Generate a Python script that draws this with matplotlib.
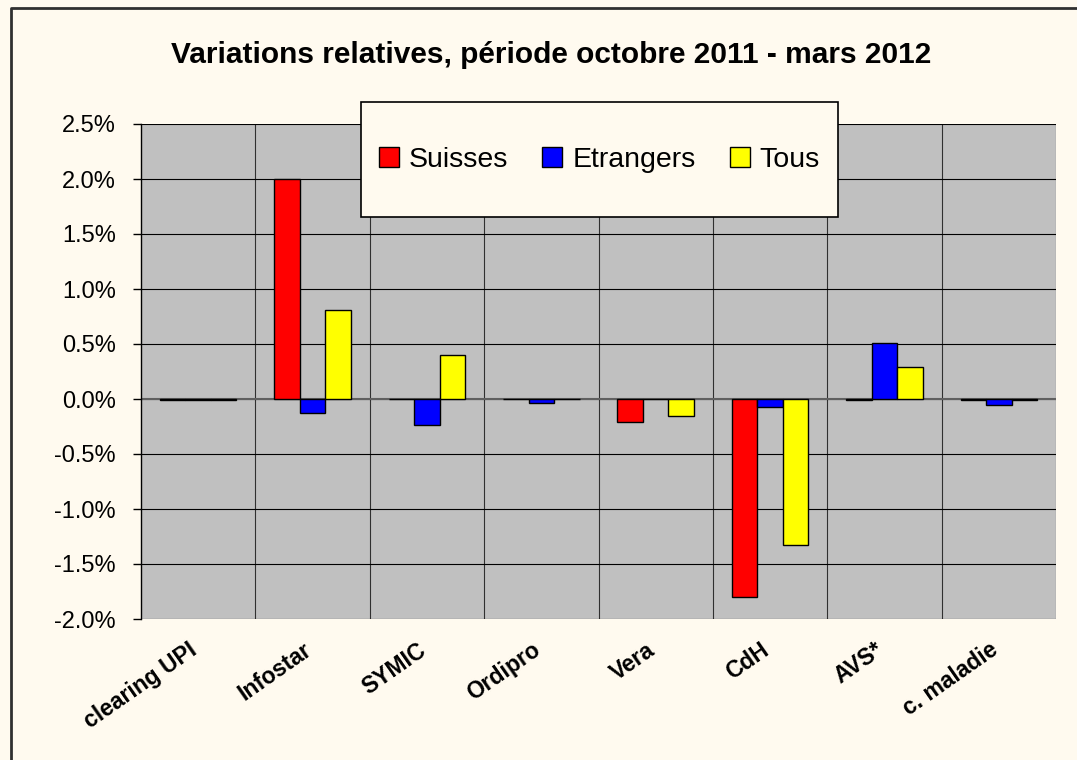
import numpy as np
import matplotlib
matplotlib.use("Agg")
import matplotlib.pyplot as plt
import matplotlib.transforms as mtransforms
from matplotlib.patches import Rectangle
from matplotlib.ticker import FuncFormatter, MultipleLocator

categories = ["clearing UPI", "Infostar", "SYMIC", "Ordipro", "Vera", "CdH", "AVS*", "c. maladie"]
suisses    = [-0.005, 2.00, 0.00, 0.00, -0.21, -1.80, -0.01, -0.005]
etrangers  = [-0.005, -0.13, -0.24, -0.04, 0.00, -0.07, 0.51, -0.05]
tous       = [-0.005, 0.81, 0.40, 0.00, -0.155, -1.33, 0.29, -0.005]
series_names = ["Suisses", "Etrangers", "Tous"]
series_colors = ["#FF0000", "#0000FF", "#FFFF00"]

BG = "#FFFAEF"
FONT = "Liberation Sans"
plt.rcParams["font.family"] = [FONT, "DejaVu Sans"]

fig = plt.figure(figsize=(10.77, 7.6), dpi=100, facecolor=BG)
ax = fig.add_axes([141 / 1077, 1 - 619 / 760, 915 / 1077, 495 / 760])
ax.set_facecolor("#C0C0C0")

x = np.arange(len(categories))
width = 0.223
handles = []
for i, (vals, name, col) in enumerate(zip([suisses, etrangers, tous], series_names, series_colors)):
    b = ax.bar(x + (i - 1) * width, vals, width, color=col, edgecolor="black",
               linewidth=1.0, label=name, zorder=3)
    handles.append(b)

ax.set_xlim(-0.5, len(categories) - 0.5)
ax.set_ylim(-2.0, 2.5)
ax.yaxis.set_major_locator(MultipleLocator(0.5))
ax.yaxis.set_major_formatter(FuncFormatter(lambda v, p: f"{v:.1f}%"))
ax.grid(axis="y", color="black", linewidth=0.8, zorder=1)
ax.set_xticks(x + 0.5, minor=True)
ax.grid(axis="x", which="minor", color="#303030", linewidth=0.8, zorder=1)
ax.axhline(0, color="#606060", linewidth=1.5, zorder=2)

ax.set_xticks(x)
ax.set_xticklabels(categories, rotation=35, ha="right", va="top",
                   rotation_mode="anchor", fontsize=16.5, fontweight="bold")
ax.tick_params(axis="x", which="both", length=0, pad=14)
ax.tick_params(axis="y", length=6, width=1, pad=12, labelsize=17, direction="out")
shift = mtransforms.ScaledTranslation(-10 / 100, 0, fig.dpi_scale_trans)
for lab in ax.get_xticklabels():
    lab.set_transform(lab.get_transform() + shift)

for s in ["top", "right", "bottom"]:
    ax.spines[s].set_visible(False)
ax.spines["left"].set_color("black")
ax.spines["left"].set_linewidth(1.0)

fig.text(551 / 1077, 1 - 55 / 760, "Variations relatives, période octobre 2011 - mars 2012",
         ha="center", va="center", fontsize=21.5, fontweight="bold")

# legend box
fig.patches.append(Rectangle((361 / 1077, 1 - 217 / 760), 477 / 1077, 115 / 760,
                             transform=fig.transFigure, facecolor=BG, edgecolor="black",
                             linewidth=1.2, zorder=3))
leg = fig.legend(handles=handles, labels=series_names, loc="center",
                 bbox_to_anchor=(599.5 / 1077, 1 - 160 / 760), ncol=3, frameon=False,
                 fontsize=20.5, handlelength=0.7, handleheight=0.7, handletextpad=0.35,
                 columnspacing=1.2)
leg.set_zorder(4)

# figure border (left and top)
fig.add_artist(plt.Line2D([11 / 1077, 11 / 1077, 1], [0, 1 - 8 / 760, 1 - 8 / 760],
                          transform=fig.transFigure, color="#303030", linewidth=2))

fig.savefig("out.png", dpi=100, facecolor=BG)
